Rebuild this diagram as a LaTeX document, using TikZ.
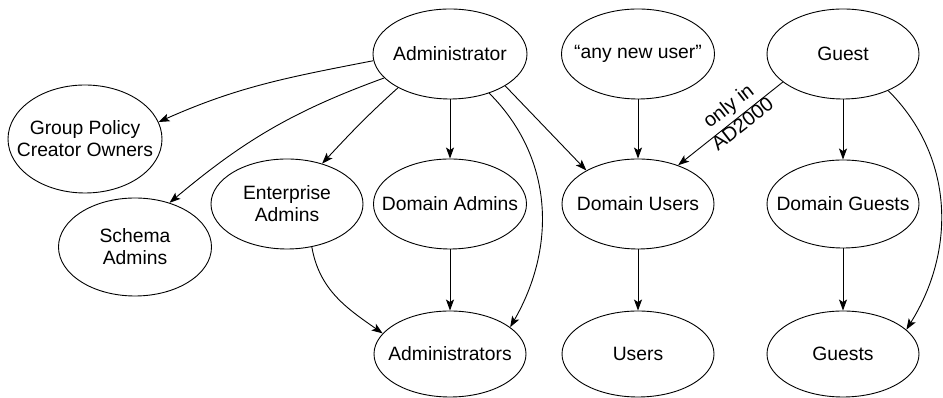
\documentclass[tikz,border=0pt]{standalone}
\usepackage{fontspec}
\setmainfont{Liberation Sans}
\usetikzlibrary{shapes.geometric, arrows.meta}
\begin{document}
\begin{tikzpicture}[x=1pt,y=1pt,
 ell/.style={draw, ellipse, line width=0.9pt, inner sep=0pt, minimum width=153pt, minimum height=90pt},
 txt/.style={align=center, font=\fontsize{19.3}{22}\selectfont, inner sep=0pt},
 arr/.style={line width=0.9pt, -{Stealth[length=11pt,width=8pt,inset=2.5pt]}}]
\useasboundingbox (0,0) rectangle (943,398);
% nodes
\node[ell, minimum width=154pt] (adm) at (450,344) {};
\node[txt] (admT) at (adm) {Administrator};
\node[ell] (anu) at (638,344) {};
\node[txt] (anuT) at (anu) {“any new user”};
\node[ell, minimum width=152pt] (gst) at (843,344) {};
\node[txt] (gstT) at (gst) {Guest};
\node[ell, minimum width=154pt, minimum height=108pt] (gpco) at (85,259) {};
\node[txt] (gpcoT) at (gpco) {Group Policy\\Creator Owners};
\node[ell, minimum height=98pt] (sch) at (135,151) {};
\node[txt] (schT) at (sch) {Schema\\Admins};
\node[ell, minimum width=152pt] (ent) at (287,194) {};
\node[txt] (entT) at (ent) {Enterprise\\Admins};
\node[ell] (dadm) at (450,194) {};
\node[txt] (dadmT) at (dadm) {Domain Admins};
\node[ell, minimum width=152pt] (dusr) at (638,194) {};
\node[txt] (dusrT) at (dusr) {Domain Users};
\node[ell, minimum width=152pt, minimum height=88pt] (dgst) at (843,194) {};
\node[txt] (dgstT) at (dgst) {Domain Guests};
\node[ell, minimum width=152pt, minimum height=86pt] (admins) at (450,44) {};
\node[txt] (adminsT) at (admins) {Administrators};
\node[ell, minimum width=152pt, minimum height=86pt] (users) at (638,44) {};
\node[txt] (usersT) at (users) {Users};
\node[ell, minimum width=152pt, minimum height=86pt] (guests) at (843,44) {};
\node[txt] (guestsT) at (guests) {Guests};
% edges
\draw[arr] (adm.185) to[out=191,in=24] (gpco.13);
\draw[arr] (adm.200) to[out=200,in=40] (sch.52);
\draw[arr] (adm.213) to[out=222,in=47] (ent.49);
\draw[arr] (adm) -- (dadm);
\draw[arr] (adm.315) to[out=-45,in=60] (admins.24);
\draw[arr] (adm.330) -- (dusr.147);
\draw[arr] (anu) -- (dusr);
\draw[arr] (gst.205) -- (dusr.44);
\draw[arr] (gst) -- (dgst);
\draw[arr] (gst.321) to[out=-45,in=58] (guests.21);
\draw[arr] (ent.300) to[out=-80,in=145] (admins.163);
\draw[arr] (dadm) -- (admins);
\draw[arr] (dusr) -- (users);
\draw[arr] (dgst) -- (guests);
% edge label
\node[rotate=38, align=center, inner sep=0pt, font=\fontsize{20}{23}\selectfont] (lbl) at (735,283.5) {only in\\AD2000};
\end{tikzpicture}
\end{document}
